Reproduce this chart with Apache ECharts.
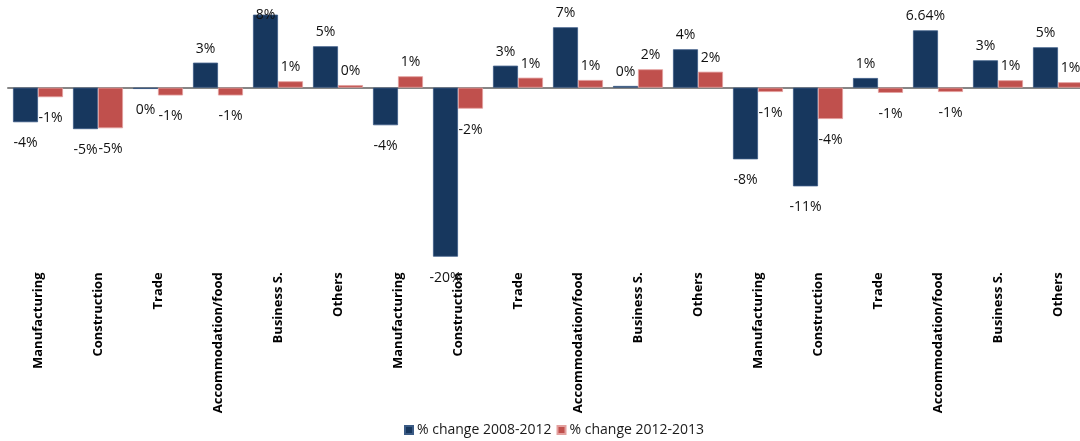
<!DOCTYPE html>
<html>
<head>
<meta charset="utf-8">
<script src="https://cdn.jsdelivr.net/npm/echarts@6/dist/echarts.min.js"></script>
<style>
  html, body { margin: 0; padding: 0; background: #fff; }
  #chart { width: 1080px; height: 441px; }
</style>
</head>
<body>
<div id="chart"></div>
<script>
const categories = [
  'Manufacturing', 'Construction', 'Trade', 'Accommodation/food', 'Business S.', 'Others',
  'Manufacturing', 'Construction', 'Trade', 'Accommodation/food', 'Business S.', 'Others',
  'Manufacturing', 'Construction', 'Trade', 'Accommodation/food', 'Business S.', 'Others'
];
const seriesNames = ['% change 2008-2012', '% change 2012-2013'];
const change0812 = [-4.0, -4.8, -0.15, 2.9, 8.46, 4.8, -4.35, -19.58, 2.55, 7.0, 0.2, 4.45, -8.3, -11.43, 1.12, 6.64, 3.17, 4.68];
const change1213 = [-1.1, -4.7, -0.9, -0.9, 0.74, 0.3, 1.32, -2.43, 1.16, 0.89, 2.13, 1.85, -0.5, -3.63, -0.6, -0.5, 0.86, 0.63];
const labels0812 = ['-4%', '-5%', '0%', '3%', '8%', '5%', '-4%', '-20%', '3%', '7%', '0%', '4%', '-8%', '-11%', '1%', '6.64%', '3%', '5%'];
const labels1213 = ['-1%', '-5%', '-1%', '-1%', '1%', '0%', '1%', '-2%', '1%', '1%', '2%', '2%', '-1%', '-4%', '-1%', '-1%', '1%', '1%'];
const yMin = -20, yMax = 9;

const FONT = '"Open Sans", "Noto Sans", sans-serif';

function buildData(values, labels) {
  return values.map((v, i) => {
    let pos = v < 0 ? 'bottom' : 'top';
    let dist = v < 0 ? 14 : 7;
    if (v > yMax - 1) { dist = -7; }
    return {
      value: v,
      label: { position: pos, distance: dist, formatter: labels[i] }
    };
  });
}

const chart = echarts.init(document.getElementById('chart'), null, { renderer: 'canvas' });
chart.setOption({
  animation: false,
  backgroundColor: '#ffffff',
  grid: { left: 8, width: 1080, top: 10, bottom: 180.7, containLabel: false, outerBoundsMode: 'none' },
  legend: {
    bottom: 4,
    left: 404,
    padding: 0,
    itemWidth: 8,
    itemHeight: 8,
    itemGap: 5,
    icon: 'rect',
    textStyle: { fontFamily: FONT, fontSize: 14, color: '#1a1a1a', padding: [0, 0, 0, -1] },
    data: seriesNames
  },
  xAxis: [
    {
      type: 'category',
      data: categories,
      position: 'bottom',
      axisLine: { show: false, onZero: false },
      axisTick: { show: false },
      axisLabel: {
        interval: 0,
        rotate: 90,
        margin: 12,
        fontFamily: FONT,
        fontWeight: 'bold',
        fontSize: 13,
        color: '#000000'
      }
    },
    {
      type: 'category',
      data: categories,
      position: 'bottom',
      axisLine: { show: true, onZero: true, lineStyle: { color: '#868686', width: 2 } },
      axisTick: { show: false },
      axisLabel: { show: false }
    }
  ],
  yAxis: {
    type: 'value',
    min: yMin,
    max: yMax,
    show: false,
    splitLine: { show: false }
  },
  series: [
    {
      name: seriesNames[0],
      type: 'bar',
      xAxisIndex: 0,
      barWidth: 25,
      barGap: '0%',
      itemStyle: { color: '#17375E', borderColor: '#3b5b85', borderWidth: 0.8 },
      label: { show: true, fontFamily: FONT, fontSize: 14, color: '#111111' },
      data: buildData(change0812, labels0812)
    },
    {
      name: seriesNames[1],
      type: 'bar',
      xAxisIndex: 0,
      barWidth: 25,
      barGap: '0%',
      itemStyle: { color: '#C0504D', borderColor: '#e3a09e', borderWidth: 0.8 },
      label: { show: true, fontFamily: FONT, fontSize: 14, color: '#111111' },
      data: buildData(change1213, labels1213)
    }
  ]
});
</script>
</body>
</html>
